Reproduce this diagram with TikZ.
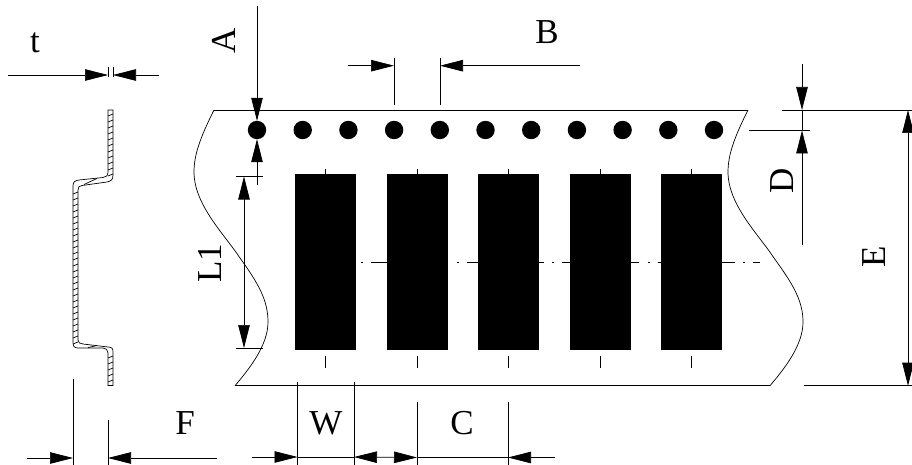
\documentclass[tikz,border=0pt]{standalone}
\usepackage{fontspec}
\setmainfont{Liberation Serif}
\usetikzlibrary{arrows.meta,positioning}
\tikzset{
  hole/.style={circle,fill=black,minimum size=18.4pt,inner sep=0pt,outer sep=0pt},
  tapepad/.style={rectangle,fill=black,minimum width=61pt,minimum height=175pt,inner sep=0pt,outer sep=0pt},
  lbl/.style={inner sep=0pt,font=\fontsize{35}{35}\selectfont},
  thinline/.style={line width=0.7pt},
  dimend/.style={thinline,-{Triangle[length=23pt,width=11.5pt]}},
  dimboth/.style={thinline,{Triangle[length=23pt,width=11.5pt]}-{Triangle[length=23pt,width=11.5pt]}},
}
\begin{document}
\begin{tikzpicture}[x=1pt,y=-1pt]
\useasboundingbox (0,0) rectangle (912,465);
% nodes
\node[hole] (h1) at (257,130) {};
\foreach \i/\j in {1/2,2/3,3/4,4/5,5/6,6/7,7/8,8/9,9/10,10/11}
  \node[hole, right=27.3pt of h\i] (h\j) {};
% center line first, the pads cover it
\coordinate (cl1) at (361,262.5);
\coordinate (cl2) at (760,262.5);
\draw[thinline, dash pattern=on 2pt off 8pt on 77pt off 8.5pt] (cl1) -- (cl2);
\node[tapepad] (p1) at (325.5,262) {};
\foreach \i/\j in {1/2,2/3,3/4,4/5}
  \node[tapepad, right=30.5pt of p\i] (p\j) {};
% labels
\node[lbl] (t) at (35,43) {t};
\node[lbl, rotate=90] (A) at (223.5,41) {A};
\node[lbl] (B) at (547,32) {B};
\node[lbl] (C) at (462,423) {C};
\node[lbl, rotate=90] (D) at (782,181) {D};
\node[lbl, rotate=90] (E) at (874,257) {E};
\node[lbl] (F) at (185,423) {F};
\node[lbl, rotate=90] (L1) at (210,263) {L1};
\node[lbl] (W) at (326,423) {W};
% tape outline
\draw[thinline] (214,110) -- (748,110);
\draw[thinline] (235,385.7) -- (770,385.7);
\draw[thinline] (214,110) .. controls (200,138) and (194,155) .. (194,172)
  .. controls (194,205) and (225,235) .. (240,258)
  .. controls (258,283) and (268,300) .. (268,322)
  .. controls (268,345) and (250,368) .. (235,385.7);
\draw[thinline] (748,110) .. controls (734,138) and (728,155) .. (728,172)
  .. controls (728,205) and (759,235) .. (774,258)
  .. controls (792,283) and (803,300) .. (803,322)
  .. controls (803,345) and (785,368) .. (770,385.7);
% pad ticks
\foreach \i in {1,...,5} {
  \draw[thinline] (p\i.north) -- ++(0,-5);
  \draw[thinline] (p\i.south) ++(0,6) -- ++(0,12);
}
% profile
\draw[thinline] (108,110) -- (108,172) .. controls (108,176) and (106,177) .. (103,177.5)
  -- (79,180) .. controls (75,180.5) and (73,182) .. (73,186)
  -- (73,342) .. controls (73,346) and (74,348) .. (78,348)
  -- (103,348) .. controls (106,348) and (108,350) .. (108,353)
  -- (108,385.5) -- (113,385.5) -- (113,352) .. controls (113,348) and (112,347.5) .. (108,347)
  -- (83,344) .. controls (80,343.5) and (78,343) .. (78,340)
  -- (78,190) .. controls (78,187) and (79,186) .. (82,185.5)
  -- (107,182) .. controls (111,181) and (113,180) .. (113,175) -- (113,110) -- cycle;
\foreach \y in {116,122,...,176}
  \draw[thinline] (108,\y) -- (113,\y-2);
\foreach \y in {194,200,...,344}
  \draw[thinline] (73,\y) -- (78,\y-2);
\foreach \y in {358,364,...,382}
  \draw[thinline] (108,\y) -- (113,\y-2);
\draw[thinline] (84,184.5) -- (97,178.5);
\draw[thinline] (88,347.5) -- (97,345.5);
% t
\coordinate (ta) at (8,75);
\coordinate (tb) at (108,75);
\coordinate (tc) at (159,75);
\coordinate (td) at (113,75);
\draw[dimend] (ta) -- (tb);
\draw[dimend] (tc) -- (td);
\draw[thinline] (108,67) -- (108,77);
\draw[thinline] (113,67) -- (113,77);
% F
\coordinate (fa) at (27,458);
\coordinate (fb) at (73,458);
\coordinate (fc) at (217,458);
\coordinate (fd) at (108,458);
\draw[dimend] (fa) -- (fb);
\draw[dimend] (fc) -- (fd);
\draw[thinline] (73,379) -- (73,465);
\draw[thinline] (108,420) -- (108,465);
% A
\coordinate (aa) at (257,6);
\coordinate (ab) at (257,185);
\draw[dimend] (aa) -- (h1);
\draw[dimend] (ab) -- (h1);
% L1
\coordinate (la) at (244,176.5);
\coordinate (lb) at (244,348);
\draw[dimboth] (la) -- (lb);
\draw[thinline] (236,176.5) -- (263,176.5);
\draw[thinline] (236,348) -- (263,348);
% B
\coordinate (ba) at (348,65.7);
\coordinate (bb) at (394,65.7);
\coordinate (bc) at (580,65.7);
\coordinate (bd) at (440,65.7);
\draw[dimend] (ba) -- (bb);
\draw[dimend] (bc) -- (bd);
\draw[thinline] (394,58) -- (394,105);
\draw[thinline] (440,58) -- (440,105);
% D
\coordinate (da) at (802,64);
\coordinate (db) at (802,110);
\coordinate (dc) at (802,245);
\coordinate (dd) at (802,130.5);
\draw[dimend] (da) -- (db);
\draw[dimend] (dc) -- (dd);
\draw[thinline] (802,110) -- (802,130.5);
\draw[thinline] (749,130.5) -- (810,130.5);
% E
\coordinate (ea) at (908,110);
\coordinate (eb) at (908,385.7);
\draw[dimboth] (ea) -- (eb);
\draw[thinline] (782,110) -- (912,110);
\draw[thinline] (804,385.7) -- (912,385.7);
% W and C
\coordinate (wa) at (252,457);
\coordinate (wb) at (297.5,457);
\coordinate (wc) at (354,457);
\coordinate (cc) at (417,457.5);
\coordinate (cd) at (508,457.5);
\coordinate (ce) at (555,457.5);
\draw[dimend] (wa) -- (wb);
\draw[thinline] (wb) -- (wc);
\draw[dimboth] (wc) -- (cc);
\draw[thinline] (cc) -- (cd);
\draw[dimend] (ce) -- (cd);
\draw[thinline] (297.5,382) -- (297.5,465);
\draw[thinline] (354,382) -- (354,465);
\draw[thinline] (417,402) -- (417,465);
\draw[thinline] (508,402) -- (508,465);
\end{tikzpicture}
\end{document}
